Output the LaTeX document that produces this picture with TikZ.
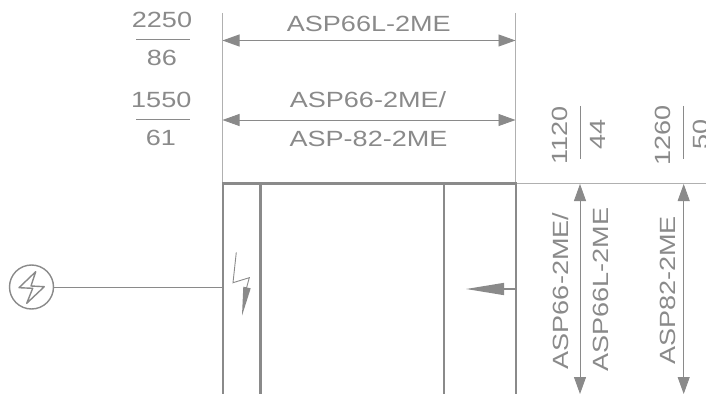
\documentclass[tikz,border=0pt]{standalone}
\usepackage{fontspec}
\setmainfont{Liberation Sans}
\usetikzlibrary{arrows.meta}
\definecolor{drawColor}{RGB}{138,138,138}
\definecolor{thinColor}{RGB}{176,176,176}
\tikzset{
  wall/.style={draw=drawColor,line width=2.4pt},
  extline/.style={draw=thinColor,line width=1pt},
  hairline/.style={draw=drawColor,line width=0.9pt},
  dimarrow/.style={draw=drawColor,line width=0.9pt,{Triangle[length=17pt,width=12pt]}-{Triangle[length=17pt,width=12pt]}},
  lbl/.style={text=drawColor,anchor=base,inner sep=0pt,outer sep=0pt,font=\fontsize{22}{24}\selectfont,xscale=1.23},
  vlbl/.style={rotate=90,lbl}
}
\begin{document}
\begin{tikzpicture}[x=1pt,y=1pt]
\path[use as bounding box] (0,0) rectangle (706,394);
\clip (0,0) rectangle (706,394);

\coordinate (extLtop) at (222.5,381);
\coordinate (extLbot) at (222.5,211);
\coordinate (extRtop) at (515.5,381);
\coordinate (extRbot) at (515.5,211);
\path[extline] (extLtop) -- (extLbot);
\path[extline] (extRtop) -- (extRbot);
\coordinate (wideL) at (222.5,353.5);
\coordinate (wideR) at (515.5,353.5);
\coordinate (narrowL) at (222.5,274);
\coordinate (narrowR) at (515.5,274);
\path[dimarrow] (wideL) -- (wideR);
\path[dimarrow] (narrowL) -- (narrowR);

\coordinate (boxTL) at (223,210.3);
\coordinate (boxTR) at (515.7,210.3);
\coordinate (boxBL) at (223,0);
\coordinate (boxBR) at (515.7,0);
\coordinate (panelAt) at (260.5,210.3);
\coordinate (panelAb) at (260.5,0);
\coordinate (panelBt) at (443.7,210.3);
\coordinate (panelBb) at (443.7,0);
\coordinate (rightEnd) at (706,210.3);
\path[hairline,draw=thinColor] (boxTR) -- (rightEnd);
\path[wall] ([xshift=-1pt]boxTL) -- ([xshift=1pt]boxTR);
\path[wall] (boxTL) -- (boxBL);
\path[wall] (boxTR) -- (boxBR);
\path[wall] (panelAt) -- (panelAb);
\path[wall] (panelBt) -- (panelBb);

% supply symbol
\node[circle,draw=drawColor,line width=1.4pt,minimum size=44pt,inner sep=0pt] (supply) at (31.5,107) {};
\coordinate (feed) at (222,107);
\path[hairline] (supply) -- (feed);
\path[draw=drawColor,line width=1.4pt,line join=round] (35.7,122.3) -- (19,106.3) -- (32.7,105.7) -- (26.7,90.7) -- (44.3,107.3) -- (31,108) -- cycle;

% bolt inside the box
\path[draw=drawColor,line width=0.9pt,line join=miter] (236.3,141.7) -- (233,111.3) -- (249.3,116.3) -- (246.5,106);
\path[fill=drawColor] (243.3,107.3) -- (250.7,105.7) -- (242,78.3) -- cycle;

% pointer on the right wall
\coordinate (pointerA) at (515,105);
\coordinate (pointerB) at (466,105);
\path[draw=drawColor,line width=1.4pt,-{Triangle[length=38pt,width=12pt]}] (pointerA) -- (pointerB);

% height arrows
\coordinate (heightAt) at (580,210);
\coordinate (heightAb) at (580,0);
\coordinate (heightBt) at (683.7,210);
\coordinate (heightBb) at (683.7,0);
\path[dimarrow] (heightAt) -- (heightAb);
\path[dimarrow] (heightBt) -- (heightBb);

% fraction bars
\coordinate (barAl) at (136,355);
\coordinate (barAr) at (190,355);
\coordinate (barBl) at (136,275);
\coordinate (barBr) at (190,275);
\coordinate (barCt) at (580,288);
\coordinate (barCb) at (580,235);
\coordinate (barDt) at (683.5,288);
\coordinate (barDb) at (683.5,235);
\path[hairline] (barAl) -- (barAr);
\path[hairline] (barBl) -- (barBr);
\path[hairline] (barCt) -- (barCb);
\path[hairline] (barDt) -- (barDb);

\node[lbl] (wideMM) at (162,366) {2250};
\node[lbl] (wideIN) at (162,328.3) {86};
\node[lbl] (narrowMM) at (161.3,286) {1550};
\node[lbl] (narrowIN) at (161,248) {61};
\node[lbl] (wideName) at (368.8,362.3) {ASP66L-2ME};
\node[lbl] (narrowNameA) at (368,286) {ASP66-2ME/};
\node[lbl] (narrowNameB) at (368.5,247.3) {ASP-82-2ME};

\node[vlbl] (heightAMM) at (567.3,258.5) {1120};
\node[vlbl] (heightAIN) at (605,260) {44};
\node[vlbl] (heightBMM) at (670.7,258.5) {1260};
\node[vlbl] (heightBIN) at (708,260) {50};
\node[vlbl] (heightNameA) at (568.3,103) {ASP66-2ME/};
\node[vlbl] (heightNameB) at (608.3,104.5) {ASP66L-2ME};
\node[vlbl] (heightNameC) at (675,103.5) {ASP82-2ME};
\end{tikzpicture}
\end{document}
